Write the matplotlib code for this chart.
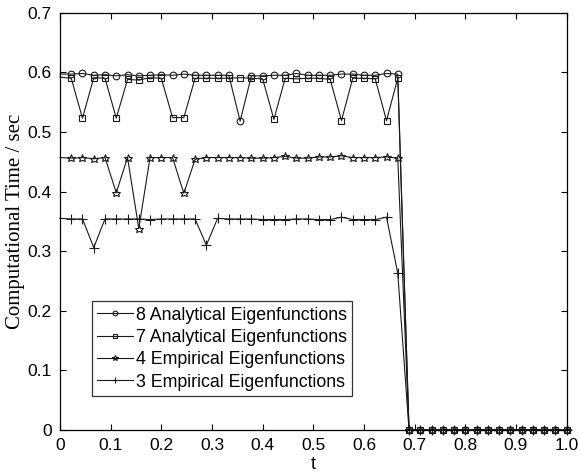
import numpy as np
import matplotlib
matplotlib.use("Agg")
import matplotlib.pyplot as plt

# Sample times t = k/45, k = 0..45
t = [k / 45 for k in range(46)]

eig8_analytical = [
    0.597, 0.597, 0.598, 0.595, 0.596, 0.594, 0.596, 0.594, 0.595, 0.596,
    0.595, 0.597, 0.595, 0.595, 0.595, 0.595, 0.518, 0.594, 0.594, 0.595,
    0.595, 0.598, 0.595, 0.595, 0.595, 0.597, 0.597, 0.595, 0.595, 0.598,
    0.597, 0, 0, 0, 0, 0, 0, 0, 0, 0, 0, 0, 0, 0, 0, 0,
]
eig7_analytical = [
    0.592, 0.590, 0.523, 0.591, 0.590, 0.523, 0.588, 0.587, 0.591, 0.590,
    0.524, 0.524, 0.590, 0.590, 0.590, 0.590, 0.591, 0.590, 0.589, 0.521,
    0.590, 0.589, 0.590, 0.590, 0.588, 0.519, 0.590, 0.590, 0.589, 0.519,
    0.590, 0, 0, 0, 0, 0, 0, 0, 0, 0, 0, 0, 0, 0, 0, 0,
]
eig4_empirical = [
    0.457, 0.456, 0.457, 0.455, 0.457, 0.398, 0.457, 0.338, 0.457, 0.457,
    0.457, 0.397, 0.454, 0.457, 0.457, 0.457, 0.457, 0.456, 0.456, 0.457,
    0.459, 0.456, 0.456, 0.458, 0.458, 0.460, 0.457, 0.457, 0.457, 0.458,
    0.456, 0, 0, 0, 0, 0, 0, 0, 0, 0, 0, 0, 0, 0, 0, 0,
]
eig3_empirical = [
    0.355, 0.354, 0.354, 0.306, 0.354, 0.354, 0.354, 0.354, 0.353, 0.354,
    0.354, 0.354, 0.354, 0.310, 0.355, 0.354, 0.354, 0.354, 0.353, 0.353,
    0.353, 0.354, 0.354, 0.353, 0.353, 0.357, 0.353, 0.353, 0.353, 0.357,
    0.263, 0, 0, 0, 0, 0, 0, 0, 0, 0, 0, 0, 0, 0, 0, 0,
]

series = [
    ("8 Analytical Eigenfunctions", eig8_analytical, "o", 4.8),
    ("7 Analytical Eigenfunctions", eig7_analytical, "s", 4.3),
    ("4 Empirical Eigenfunctions", eig4_empirical, "*", 6.2),
    ("3 Empirical Eigenfunctions", eig3_empirical, "+", 7.0),
]

x_ticks = [0, 0.1, 0.2, 0.3, 0.4, 0.5, 0.6, 0.7, 0.8, 0.9, 1.0]
x_tick_labels = ["0", "0.1", "0.2", "0.3", "0.4", "0.5", "0.6", "0.7", "0.8", "0.9", "1.0"]
y_ticks = [0, 0.1, 0.2, 0.3, 0.4, 0.5, 0.6, 0.7]
y_tick_labels = ["0", "0.1", "0.2", "0.3", "0.4", "0.5", "0.6", "0.7"]

plt.rcParams["font.family"] = ["Liberation Sans", "DejaVu Sans"]

fig = plt.figure(figsize=(5.8, 4.75), dpi=100)
ax = fig.add_axes([0.1034, 0.0947, 0.8736, 0.8786])

ink = "#1a1a1a"
for label, vals, marker, ms in series:
    ax.plot(t, vals, color=ink, lw=0.8, marker=marker, ms=ms,
            mfc="none", mec=ink, mew=0.8, markevery=list(range(1, len(t))),
            label=label, clip_on=False)

ax.set_xlim(0, 1.0)
ax.set_ylim(0, 0.7)
ax.set_xticks(x_ticks)
ax.set_xticklabels(x_tick_labels)
ax.set_yticks(y_ticks)
ax.set_yticklabels(y_tick_labels)
ax.tick_params(direction="in", top=True, right=True, length=4, width=0.8,
               labelsize=12.5, colors="black")
ax.tick_params(axis="x", pad=6)
ax.tick_params(axis="y", pad=6)
for sp in ax.spines.values():
    sp.set_linewidth(0.9)
    sp.set_zorder(3)

ax.set_xlabel("t", fontsize=13, labelpad=2)
ax.set_ylabel("Computational Time / sec", fontsize=15,
              family="Liberation Serif", labelpad=2)

leg = ax.legend(loc="lower left", bbox_to_anchor=(0.0625, 0.0815),
                borderaxespad=0, fontsize=12.8, frameon=True, fancybox=False,
                edgecolor="black", handlelength=2.0, handletextpad=0.2,
                labelspacing=0.3, borderpad=0.3, markerscale=0.7)
leg.get_frame().set_linewidth(0.9)

fig.savefig("out.png", dpi=100)
